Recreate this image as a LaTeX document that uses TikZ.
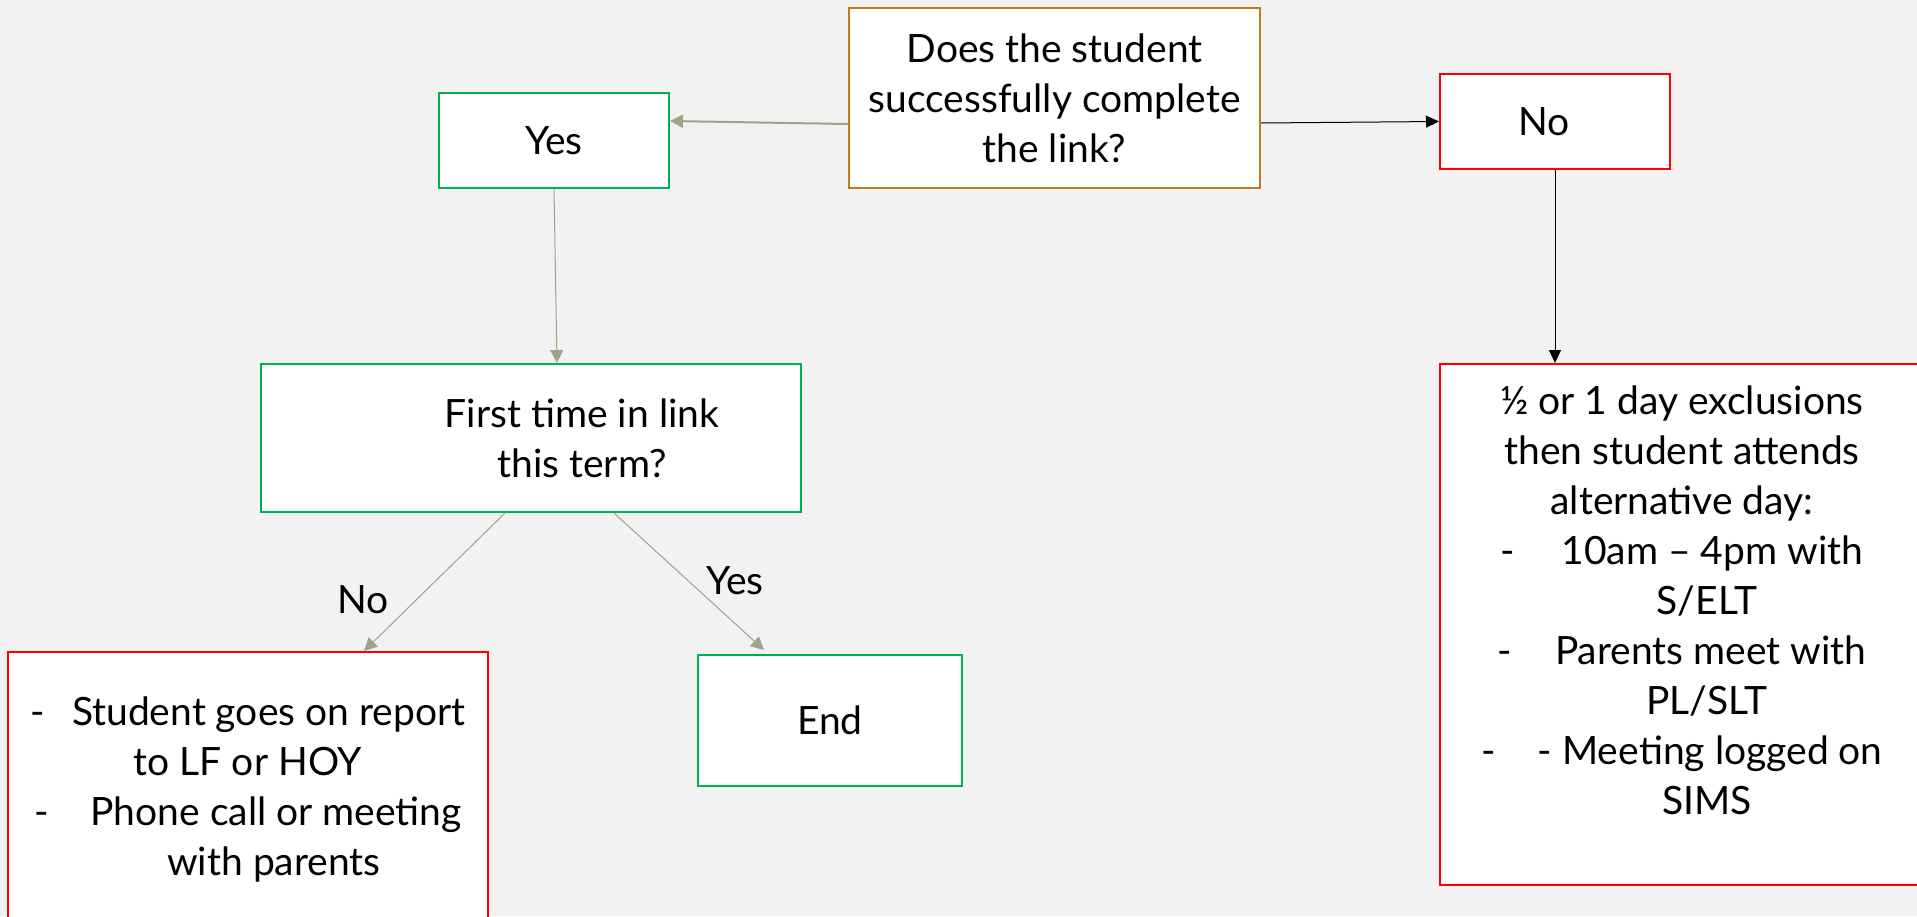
\documentclass[tikz,border=0pt]{standalone}
\usepackage{fontspec}
\setmainfont{Lato}
\usetikzlibrary{arrows.meta}

\definecolor{bggray}{RGB}{242,242,242}
\definecolor{okgreen}{RGB}{0,176,80}
\definecolor{stopred}{RGB}{255,0,0}
\definecolor{askorange}{RGB}{192,122,26}
\definecolor{linkgray}{RGB}{158,163,138}

\begin{document}
\begin{tikzpicture}[x=0.5pt, y=-0.5pt,
    box/.style ={rectangle, draw, line width=1pt, fill=white, inner sep=0pt,
                 align=center, font=\fontsize{19.5}{25}\selectfont},
    askbox/.style ={box, draw=askorange},
    yesbox/.style ={box, draw=okgreen},
    nobox/.style ={box, draw=stopred},
    plain/.style ={inner sep=0pt, align=center, font=\fontsize{19.5}{25}\selectfont},
    link/.style ={color=linkgray, line width=0.5pt, -{Triangle[length=6.5pt,width=6.5pt]}},
    blacklink/.style ={color=black, line width=0.5pt, -{Triangle[length=6.5pt,width=6pt]}}]
   \fill[bggray] (0,0) rectangle (1917,916);
   \useasboundingbox (0,0) rectangle (1917,916);
   \clip (0,0) rectangle (1917,916);

   \node[askbox, minimum width=205.5pt, minimum height=90pt] (ask) at (1054.5,98)
      {Does the student\\ successfully complete\\ the link?};
   \node[yesbox, minimum width=115pt, minimum height=47.5pt] (yes) at (554,140.5) {Yes};
   \node[nobox, minimum width=115pt, minimum height=47.5pt] (no) at (1555,121.5) {\hspace*{-11pt}No};
   \node[yesbox, minimum width=270pt, minimum height=74pt] (first) at (531,438)
      {\hspace*{51pt}First time in link\\ \hspace*{51pt}this term?};
   \node[nobox, minimum width=240pt, minimum height=137pt] (report) at (248,789)
      {-\hspace{13.5pt}Student goes on report\\ to LF or HOY\\
       -\hspace{21pt}Phone call or meeting\\ \hspace*{26pt}with parents};
   \node[yesbox, minimum width=132pt, minimum height=65.5pt] (end) at (830,720.5) {End};
   \node[nobox, minimum width=242pt, minimum height=260.5pt] (excl) at (1682,624.5) {};
   \node[plain] (excltext) at (1682,600.5)
      {½ or 1 day exclusions\\ then student attends\\ alternative day:\\
       -\hspace{23pt}10am – 4pm with\\ \hspace*{25pt}S/ELT\\
       -\hspace{21.5pt}Parents meet with\\ \hspace*{25pt}PL/SLT\\
       -\hspace{21pt}- Meeting logged on\\ \hspace*{25pt}SIMS};

   \node[plain] (nolabel) at (363,600) {No};
   \node[plain] (yeslabel) at (735,581) {Yes};

   \draw[link, line width=1pt] ([yshift=-13pt]ask.west) to ([yshift=9.75pt]yes.east);
   \draw[blacklink] ([yshift=-12.5pt]ask.east) to (no.west);
   \draw[link] (yes.south) to ([xshift=13pt]first.north);
   \draw[blacklink] (no.south) to (no.south |- excl.north);
   \draw[link] ([xshift=-13pt]first.south) to ([xshift=58pt]report.north);
   \draw[link] ([xshift=41.5pt]first.south) to ([xshift=-33pt,yshift=2pt]end.north);
 \end{tikzpicture}
\end{document}
